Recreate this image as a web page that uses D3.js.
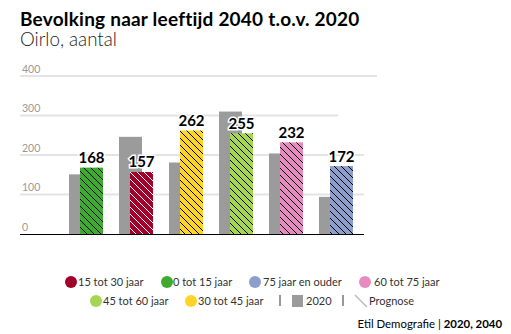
<!DOCTYPE html>
<html><head><meta charset="utf-8">
<script src="https://cdn.jsdelivr.net/npm/d3@7"></script>
<style>body{margin:0;background:#fff;}svg{display:block;font-family:"Source Sans Pro","Lato",sans-serif;}</style>
</head><body><svg id="c" width="511" height="334"></svg>
<script>
const categories = ["0 tot 15 jaar","15 tot 30 jaar","30 tot 45 jaar","45 tot 60 jaar","60 tot 75 jaar","75 jaar en ouder"];
const values2020 = [151, 246, 181, 310, 204, 94];
const values2040 = [168, 157, 262, 255, 232, 172];
const colors = ["#3dab2f","#a0002a","#ffd42a","#a5d653","#e68bc0","#8c9fcc"];
const hatchColors = ["#000","#fff","#000","#000","#000","#000"];
const yTicks = [0,100,200,300,400];
const legendRow1 = ["15 tot 30 jaar","0 tot 15 jaar","75 jaar en ouder","60 tot 75 jaar"];
const legendRow2 = ["45 tot 60 jaar","30 tot 45 jaar"];

const svg = d3.select("#c");
const defs = svg.append("defs");
categories.forEach((c,i)=>{
  const p = defs.append("pattern").attr("id","h"+i).attr("patternUnits","userSpaceOnUse")
    .attr("width",7).attr("height",7);
  p.append("rect").attr("width",7).attr("height",7).attr("fill",colors[i]);
  p.append("path").attr("d","M-1,-1L8,8M-1,6L1,8M6,-1L8,1").attr("stroke",hatchColors[i]).attr("stroke-width",1);
});

svg.append("text").attr("x",20).attr("y",26).attr("font-size",19).attr("letter-spacing",0.22).attr("font-weight","bold").attr("fill","#000")
  .text("Bevolking naar leeftijd 2040 t.o.v. 2020");
svg.append("text").attr("x",20).attr("y",46).attr("font-size",18.7).attr("font-weight",300).attr("fill","#222")
  .text("Oirlo, aantal");

const y = d3.scaleLinear().domain([0,400]).range([234,76]);
const x = d3.scaleBand().domain(categories).range([61,361]);
const bw = 23;
const gridEnd = {100:364,200:364,300:338,400:377};

const g = svg.append("g");
yTicks.forEach(t=>{
  if(t>0) g.append("line").attr("x1",20).attr("x2",gridEnd[t]).attr("y1",y(t)).attr("y2",y(t))
    .attr("stroke",t%200===0?"#c8c8c8":"#e3e3e3").attr("stroke-width",t%200===0?1:2);
  g.append("text").attr("x",22).attr("y",y(t)-3.5).attr("font-size",10.5).attr("fill","#999").text(t);
});

g.selectAll(".b20").data(categories).join("rect")
  .attr("x",d=>x(d)+x.bandwidth()/2-17).attr("width",bw)
  .attr("y",(d,i)=>y(values2020[i])).attr("height",(d,i)=>y(0)-y(values2020[i]))
  .attr("fill","#9b9b9b");
g.selectAll(".b40").data(categories).join("rect")
  .attr("x",d=>x(d)+x.bandwidth()/2-6).attr("width",bw)
  .attr("y",(d,i)=>y(values2040[i])).attr("height",(d,i)=>y(0)-y(values2040[i]))
  .attr("fill",(d,i)=>`url(#h${i})`);
g.selectAll(".lbl").data(categories).join("text")
  .attr("x",d=>x(d)+x.bandwidth()/2+5.5).attr("y",(d,i)=>y(values2040[i])-4.5)
  .attr("text-anchor","middle").attr("font-size",15).attr("font-weight","bold")
  .attr("stroke","#fff").attr("stroke-width",3).attr("paint-order","stroke").attr("fill","#000")
  .text((d,i)=>values2040[i]);

g.append("line").attr("x1",20).attr("x2",364).attr("y1",234.5).attr("y2",234.5).attr("stroke","#000").attr("stroke-width",1);

const colOf = n => colors[categories.indexOf(n)];
const lg = svg.append("g").attr("font-size",11).attr("fill","#333");
const r1x = [71,167,255,365];
const r1t = [78,173,263,374];
legendRow1.forEach((n,i)=>{
  lg.append("circle").attr("cx",r1x[i]).attr("cy",282).attr("r",6).attr("fill",colOf(n));
  lg.append("text").attr("x",r1t[i]).attr("y",286).attr("fill","#333").text(n);
});
const r2x = [96,191];
const r2t = [103,198];
legendRow2.forEach((n,i)=>{
  lg.append("circle").attr("cx",r2x[i]).attr("cy",301).attr("r",6).attr("fill",colOf(n));
  lg.append("text").attr("x",r2t[i]).attr("y",305).attr("fill","#333").text(n);
});
lg.append("line").attr("x1",280).attr("x2",280).attr("y1",295).attr("y2",306).attr("stroke","#333");
lg.append("rect").attr("x",292).attr("y",295).attr("width",11).attr("height",12).attr("fill","#9b9b9b");
lg.append("text").attr("x",306).attr("y",305).attr("fill","#333").text("2020");
lg.append("line").attr("x1",343).attr("x2",343).attr("y1",295).attr("y2",306).attr("stroke","#333");
lg.append("line").attr("x1",355).attr("x2",367).attr("y1",295).attr("y2",307).attr("stroke","#bbb").attr("stroke-width",1.5);
lg.append("text").attr("x",369).attr("y",305).attr("fill","#333").text("Prognose");

const ft = svg.append("text").attr("x",502).attr("y",328).attr("text-anchor","end").attr("font-size",11.4).attr("fill","#000");
ft.append("tspan").text("Etil Demografie | ");
ft.append("tspan").attr("font-weight","bold").text("2020, 2040");
</script></body></html>
